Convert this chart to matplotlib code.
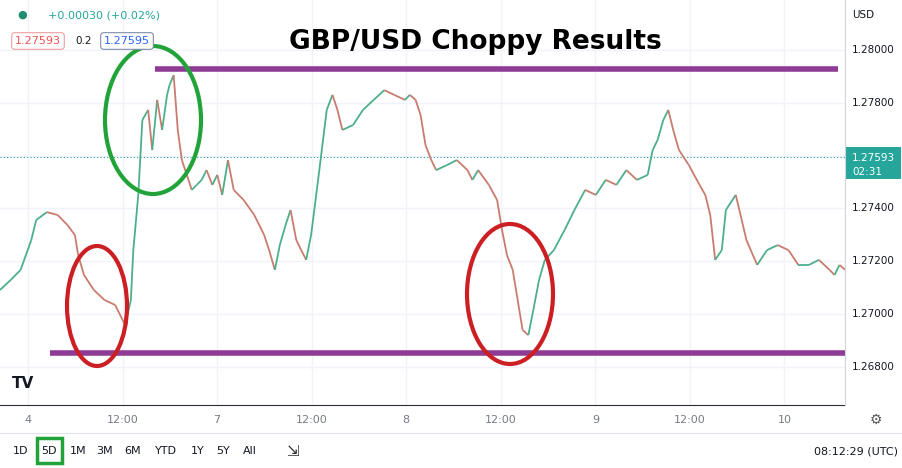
import numpy as np
import matplotlib.pyplot as plt
from matplotlib.collections import LineCollection
from matplotlib.patches import Ellipse, FancyBboxPatch

# positions (px / 8.23 from the left edge), and price
pos = [0.0, 1.3, 2.5, 3.8, 4.4, 5.7, 7.0, 8.2, 9.1, 9.5, 10.2, 11.4, 12.7, 14.0, 15.2, 15.9, 16.2,
       16.8, 17.3, 18.0, 18.5, 19.1, 19.7, 20.3, 20.6, 21.1, 21.6, 22.1, 22.7, 23.3, 23.9, 24.5,
       25.1, 25.8, 26.4, 27.0, 27.7, 28.4, 29.6, 30.9, 32.1, 32.7, 33.4, 34.0, 34.7, 35.3, 36.0,
       36.6, 37.2, 37.8, 38.5, 39.1, 39.7, 40.4, 41.0, 41.6, 42.9, 44.1, 45.4, 46.7, 47.9, 49.2,
       49.8, 50.5, 51.1, 51.7, 52.4, 53.0, 54.3, 55.5, 56.8, 57.4, 58.1, 59.4, 60.4, 61.0, 61.6,
       62.3, 62.9, 63.5, 64.2, 64.8, 65.5, 66.2, 67.3, 68.6, 69.8, 71.1, 72.4, 73.6, 74.9, 76.1,
       77.4, 78.7, 79.3, 79.9, 80.6, 81.2, 81.8, 82.5, 83.7, 85.0, 85.7, 86.3, 86.9, 87.7, 88.2,
       89.4, 90.7, 92.0, 93.2, 94.5, 95.8, 97.0, 98.3, 99.5, 100.8, 101.4, 102.0, 102.7]
prices = [1.27091, 1.27129, 1.27167, 1.27280, 1.27356, 1.27386, 1.27375, 1.27337, 1.27299, 1.27223,
          1.27148, 1.27091, 1.27053, 1.27034, 1.26958, 1.27053, 1.27242, 1.27451, 1.27735, 1.27773,
          1.27621, 1.27811, 1.27697, 1.27830, 1.27867, 1.27905, 1.27697, 1.27583, 1.27527, 1.27470,
          1.27489, 1.27508, 1.27545, 1.27489, 1.27527, 1.27451, 1.27583, 1.27470, 1.27432, 1.27375,
          1.27299, 1.27242, 1.27167, 1.27261, 1.27337, 1.27394, 1.27280, 1.27242, 1.27205, 1.27299,
          1.27470, 1.27621, 1.27773, 1.27830, 1.27773, 1.27697, 1.27716, 1.27773, 1.27811, 1.27848,
          1.27830, 1.27811, 1.27830, 1.27811, 1.27754, 1.27640, 1.27583, 1.27545, 1.27564, 1.27583,
          1.27545, 1.27508, 1.27545, 1.27489, 1.27432, 1.27318, 1.27223, 1.27167, 1.27053, 1.26939,
          1.26920, 1.27015, 1.27129, 1.27205, 1.27242, 1.27318, 1.27394, 1.27470, 1.27451, 1.27508,
          1.27489, 1.27545, 1.27508, 1.27527, 1.27621, 1.27659, 1.27735, 1.27773, 1.27697, 1.27621,
          1.27564, 1.27489, 1.27451, 1.27375, 1.27205, 1.27242, 1.27394, 1.27451, 1.27280, 1.27186,
          1.27242, 1.27261, 1.27242, 1.27186, 1.27186, 1.27205, 1.27167, 1.27148, 1.27186, 1.27167,
          1.27280, 1.27318, 1.27593]

resistance = 1.27928
support = 1.26852
last_price = 1.27593
tick_hours = [0, 12, 24, 36, 48, 60, 72, 84, 96]
tick_labels = ['4', '12:00', '7', '12:00', '8', '12:00', '9', '12:00', '10']
price_ticks = [1.268, 1.270, 1.272, 1.274, 1.276, 1.278, 1.280]

W, H = 903, 468
PXH = 7.88      # px per trading hour
PXP = 26400     # px per price unit
fig = plt.figure(figsize=(W / 100, H / 100), dpi=100)
fig.patch.set_facecolor('white')
ax = fig.add_axes([0, 63 / H, 845 / W, 1 - 63 / H])

x0 = -28 / PXH
x1 = x0 + 845 / PXH
ax.set_xlim(x0, x1)
ax.set_ylim(1.28 - 355 / PXP, 1.28 + 50 / PXP)

def px(x):
    return x0 + x / PXH

def py(y):
    return 1.28 - (y - 50) / PXP

for t in tick_hours:
    ax.axvline(t, color='#f0f3fa', lw=1, zorder=0)
for pr in price_ticks:
    ax.axhline(pr, color='#f0f3fa', lw=1, zorder=0)

h = px(np.array(pos) * 8.23)
p = np.array(prices)
segs = [[(h[i], p[i]), (h[i + 1], p[i + 1])] for i in range(len(h) - 1)]
cols = ['#4caf8a' if p[i + 1] >= p[i] else '#c97c6e' for i in range(len(h) - 1)]
ax.add_collection(LineCollection(segs, colors=cols, linewidths=1.3, zorder=2))

ax.axhline(last_price, color='#26a69a', lw=0.8, ls=(0, (1, 2)), zorder=1)

ax.plot([px(155), px(838)], [resistance, resistance], color='#8e3b96', lw=4, solid_capstyle='butt', zorder=3)
ax.plot([px(50), px(845)], [support, support], color='#8e3b96', lw=4, solid_capstyle='butt', zorder=3)

def ellipse(cx, cy, w, hh, color):
    ax.add_patch(Ellipse((px(cx), py(cy)), w / PXH, hh / PXP, fill=False,
                         edgecolor=color, lw=3, zorder=4))

ellipse(153, 120, 96, 148, '#22a33a')
ellipse(97, 306, 60, 120, '#cc1f24')
ellipse(510, 294, 86, 140, '#cc1f24')

for s in ['top', 'left', 'right']:
    ax.spines[s].set_visible(False)
ax.spines['bottom'].set_color('#2a2e39')
ax.set_xticks([])
ax.set_yticks([])

# right price axis labels
for pr in price_ticks:
    if abs(pr - last_price) < 0.0005:
        continue
    y = 50 + (1.28 - pr) * PXP
    fig.text(852 / W, 1 - y / H, f'{pr:.5f}', fontsize=7.5, color='#131722', va='center')
fig.add_artist(plt.Line2D([845 / W, 845 / W], [63 / H, 1], color='#d1d4dc', lw=0.8))
yl = 50 + (1.28 - last_price) * PXP
fig.patches.append(FancyBboxPatch((846 / W, 1 - (yl + 22) / H), 55 / W, 32 / H,
                                  boxstyle='square,pad=0', fc='#26a69a', ec='none',
                                  transform=fig.transFigure, figure=fig))
fig.text(852 / W, 1 - (yl + 1) / H, '1.27593', fontsize=7.5, color='white', va='center')
fig.text(852 / W, 1 - (yl + 15) / H, '02:31', fontsize=7.5, color='white', va='center')
fig.text(852 / W, 1 - 15 / H, 'USD', fontsize=7.5, color='#131722', va='center')

# x labels
for t, lab in zip(tick_hours, tick_labels):
    fig.text((28 + t * PXH) / W, 1 - 420 / H, lab, fontsize=8, color='#787b86', ha='center', va='center')
fig.text(876 / W, 1 - 420 / H, '⚙', fontsize=10, color='#555', ha='center', va='center')
fig.add_artist(plt.Line2D([0, 1], [1 - 433 / H, 1 - 433 / H], color='#e0e3eb', lw=0.8))

# bottom toolbar
btns = ['1D', '5D', '1M', '3M', '6M', 'YTD', '1Y', '5Y', 'All']
bx = [21, 49, 78, 105, 133, 166, 198, 223, 250]
for b, x in zip(btns, bx):
    fig.text(x / W, 1 - 451 / H, b, fontsize=8, color='#131722', ha='center', va='center')
fig.patches.append(FancyBboxPatch((37 / W, 1 - 463 / H), 25 / W, 25 / H, boxstyle='square,pad=0',
                                  fc='none', ec='#22a33a', lw=2.5, transform=fig.transFigure, figure=fig))
fig.text(292 / W, 1 - 451 / H, '⇲', fontsize=11, color='#333', ha='center', va='center')
fig.text(898 / W, 1 - 451 / H, '08:12:29 (UTC)', fontsize=8, color='#131722', ha='right', va='center')

# top-left legend
fig.text(22 / W, 1 - 15 / H, '●', fontsize=8, color='#1e8c6e', ha='center', va='center')
fig.text(48 / W, 1 - 15 / H, '+0.00030 (+0.02%)', fontsize=8, color='#26a69a', va='center')
fig.text(15 / W, 1 - 41 / H, '1.27593', fontsize=8, color='#ef5350', va='center',
         bbox=dict(boxstyle='round,pad=0.3', fc='white', ec='#f0a0a0', lw=0.8))
fig.text(75 / W, 1 - 41 / H, '0.2', fontsize=7.5, color='#131722', va='center')
fig.text(104 / W, 1 - 41 / H, '1.27595', fontsize=8, color='#2962ff', va='center',
         bbox=dict(boxstyle='round,pad=0.3', fc='white', ec='#7e8da8', lw=0.8))

fig.text(475 / W, 1 - 42 / H, 'GBP/USD Choppy Results', fontsize=19, fontweight='bold',
         color='black', ha='center', va='center')
fig.text(12 / W, 1 - 383 / H, 'TV', fontsize=11, fontweight='bold', color='#131722', va='center')

fig.savefig('out.png', dpi=100)
